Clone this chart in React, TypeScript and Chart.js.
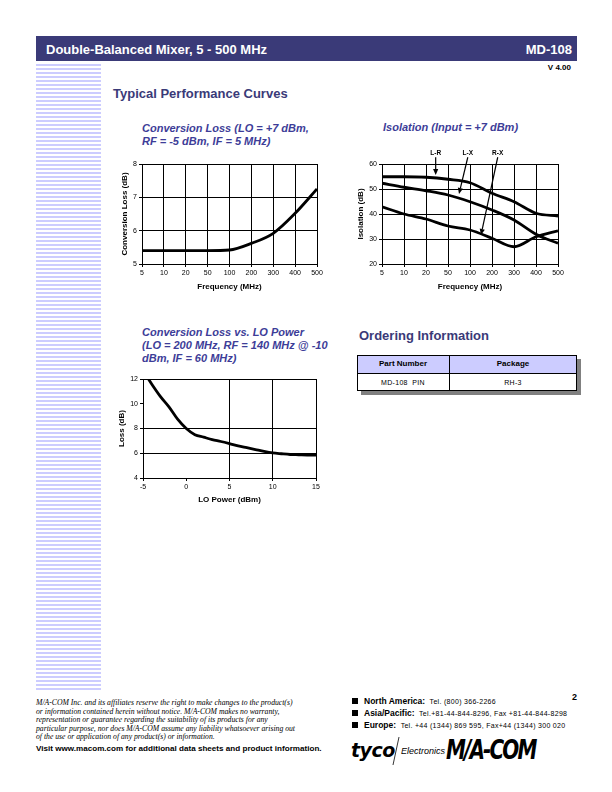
import React, { useEffect, useRef } from 'react';
import { Chart, registerables } from 'chart.js';

Chart.register(...registerables);

// ---------- data ----------
const FREQ_LABELS = ['5', '10', '20', '50', '100', '200', '300', '400', '500'];
const CONV_LOSS = [5.4, 5.4, 5.4, 5.4, 5.42, 5.62, 5.92, 6.52, 7.25];

const ISO_LR = [54.9, 54.9, 54.7, 53.9, 52.5, 48.3, 44.9, 40.3, 39.2];
const ISO_LX = [52.3, 50.7, 49.3, 47.6, 44.9, 41.6, 37.6, 31.9, 28.3];
const ISO_RX = [42.9, 40.0, 38.0, 35.2, 33.6, 30.3, 26.9, 30.9, 33.3];

const ISO_ARROW_LABELS = ['L-R', 'L-X', 'R-X'];
const ISO_ARROW_FROM_X = [2.44, 3.9, 5.26];
const ISO_ARROW_FROM_Y = [62.7, 62.7, 62.7];
const ISO_ARROW_TO_X = [2.44, 3.5, 4.5];
const ISO_ARROW_TO_Y = [55.6, 48.0, 31.6];
const ISO_LABEL_Y = 64.4;

const LO_POWER = [-5, -4, -3, -2, -1, 0, 1, 2, 3, 4, 5, 6, 7, 8, 9, 10, 11, 12, 13, 14, 15];
const LO_LOSS = [12.7, 11.6, 10.6, 9.75, 8.75, 8.0, 7.5, 7.3, 7.1, 6.95, 6.78, 6.6, 6.45, 6.3, 6.15, 6.03, 5.96, 5.9, 5.88, 5.86, 5.85];
const LO_GRID_X = [5, 10];
const LO_GRID_Y = [6, 8];

// ---------- styles ----------
const SANS = '"Liberation Sans", Arial, Helvetica, sans-serif';
const SERIF = '"Liberation Serif", "Times New Roman", serif';
const NAVY = '#3a3a78';
const TITLE_BLUE = '#3d3d98';

const framePlugin = {
  id: 'frame',
  beforeDatasetsDraw(chart: any) {
    const { ctx, chartArea: a } = chart;
    ctx.save();
    ctx.strokeStyle = '#000';
    ctx.lineWidth = 1;
    const l = Math.round(a.left) + 0.5;
    const t = Math.round(a.top) + 0.5;
    const r = Math.round(a.right) + 0.5;
    const b = Math.round(a.bottom) + 0.5;
    ctx.strokeRect(l, t, r - l, b - t);
    ctx.restore();
  },
};

const arrowPlugin = {
  id: 'isoArrows',
  afterDraw(chart: any) {
    const { ctx, scales } = chart;
    const x = scales.x;
    const y = scales.y;
    ctx.save();
    ctx.strokeStyle = '#000';
    ctx.fillStyle = '#000';
    ISO_ARROW_LABELS.forEach((lab, i) => {
      const x0 = x.getPixelForValue(ISO_ARROW_FROM_X[i]);
      const y0 = y.getPixelForValue(ISO_ARROW_FROM_Y[i]);
      const x1 = x.getPixelForValue(ISO_ARROW_TO_X[i]);
      const y1 = y.getPixelForValue(ISO_ARROW_TO_Y[i]);
      const ang = Math.atan2(y1 - y0, x1 - x0);
      const head = 6;
      const hw = 2.6;
      const bx = x1 - head * Math.cos(ang);
      const by = y1 - head * Math.sin(ang);
      ctx.lineWidth = 1.2;
      ctx.beginPath();
      ctx.moveTo(x0, y0);
      ctx.lineTo(bx, by);
      ctx.stroke();
      ctx.beginPath();
      ctx.moveTo(x1, y1);
      ctx.lineTo(bx + hw * Math.sin(ang), by - hw * Math.cos(ang));
      ctx.lineTo(bx - hw * Math.sin(ang), by + hw * Math.cos(ang));
      ctx.closePath();
      ctx.fill();
      ctx.font = `bold 6.5px ${SANS}`;
      ctx.textAlign = 'center';
      ctx.textBaseline = 'middle';
      ctx.fillText(lab, x0, y.getPixelForValue(ISO_LABEL_Y));
    });
    ctx.restore();
  },
};

const tickFont = { family: SANS, size: 7 };
const axisTitleFont = { family: SANS, size: 8, weight: 'bold' as const };

function lineDs(data: number[]) {
  return {
    data,
    borderColor: '#000',
    borderWidth: 2.8,
    pointRadius: 0,
    fill: false,
    cubicInterpolationMode: 'monotone' as const,
    clip: 0,
  };
}

function yAxis(min: number, max: number, step: number, title: string, titlePad: number, width: number, gridColor?: any) {
  return {
    type: 'linear',
    min,
    max,
    ticks: { stepSize: step, font: tickFont, color: '#000', padding: 2 },
    grid: { color: gridColor || '#000', lineWidth: 1, tickLength: 3, tickColor: '#000' },
    border: { color: '#000' },
    title: { display: true, text: title, font: axisTitleFont, color: '#000', padding: { top: titlePad, bottom: 0 } },
    afterFit: (s: any) => {
      s.width = width;
    },
  };
}

function xTitle(text: string, pad: number) {
  return { display: true, text, font: axisTitleFont, color: '#000', padding: { top: 0, bottom: pad } };
}

function ChartBox(props: { left: number; top: number; width: number; height: number; make: () => any }) {
  const ref = useRef<HTMLCanvasElement | null>(null);
  useEffect(() => {
    const chart = new Chart(ref.current as HTMLCanvasElement, props.make());
    return () => chart.destroy();
  }, []);
  return (
    <canvas
      ref={ref}
      width={props.width}
      height={props.height}
      style={{ position: 'absolute', left: props.left, top: props.top, width: props.width, height: props.height }}
    />
  );
}

const baseOpts = {
  responsive: false,
  animation: false,
  devicePixelRatio: 1,
  plugins: { legend: { display: false }, tooltip: { enabled: false } },
};

function makeConvLoss() {
  return {
    type: 'line',
    data: { labels: FREQ_LABELS, datasets: [lineDs(CONV_LOSS)] },
    options: {
      ...baseOpts,
      layout: { padding: { left: 0, top: 14, right: 13, bottom: 0 } },
      scales: {
        x: {
          type: 'category',
          offset: false,
          ticks: { font: tickFont, color: '#000', padding: 2, autoSkip: false, maxRotation: 0 },
          grid: { color: '#000', offset: false, tickLength: 3, tickColor: '#000' },
          border: { color: '#000' },
          title: xTitle('Frequency (MHz)', 8),
          afterFit: (s: any) => {
            s.height = 36;
          },
        },
        y: yAxis(5, 8, 1, 'Conversion Loss (dB)', 19.5, 42),
      },
    },
    plugins: [framePlugin],
  };
}

function makeIsolation() {
  return {
    type: 'line',
    data: { labels: FREQ_LABELS, datasets: [lineDs(ISO_LR), lineDs(ISO_LX), lineDs(ISO_RX)] },
    options: {
      ...baseOpts,
      layout: { padding: { left: 0, top: 24, right: 12, bottom: 0 } },
      scales: {
        x: {
          type: 'category',
          offset: false,
          ticks: { font: tickFont, color: '#000', padding: 2, autoSkip: false, maxRotation: 0 },
          grid: { color: '#000', offset: false, tickLength: 3, tickColor: '#000' },
          border: { color: '#000' },
          title: xTitle('Frequency (MHz)', 8.5),
          afterFit: (s: any) => {
            s.height = 36;
          },
        },
        y: yAxis(20, 60, 10, 'Isolation (dB)', 15.5, 42),
      },
    },
    plugins: [framePlugin, arrowPlugin],
  };
}

function makeLoPower() {
  return {
    type: 'line',
    data: {
      datasets: [{ ...lineDs(LO_LOSS), data: LO_POWER.map((p, i) => ({ x: p, y: LO_LOSS[i] })) }],
    },
    options: {
      ...baseOpts,
      layout: { padding: { left: 0, top: 14, right: 14, bottom: 0 } },
      scales: {
        x: {
          type: 'linear',
          min: -5,
          max: 15,
          ticks: { stepSize: 5, font: tickFont, color: '#000', padding: 2, maxRotation: 0 },
          grid: {
            color: (c: any) => (c.tick && LO_GRID_X.includes(c.tick.value) ? '#000' : 'rgba(0,0,0,0)'),
            tickLength: 3,
            tickColor: '#000',
          },
          border: { color: '#000' },
          title: xTitle('LO Power (dBm)', 10),
          afterFit: (s: any) => {
            s.height = 37;
          },
        },
        y: yAxis(4, 12, 2, 'Loss (dB)', 17, 43, (c: any) =>
          c.tick && LO_GRID_Y.includes(c.tick.value) ? '#000' : 'rgba(0,0,0,0)'
        ),
      },
    },
    plugins: [framePlugin],
  };
}

function T(props: { x: number; y: number; children: any; style?: any; right?: boolean; center?: boolean }) {
  const tx = props.right ? '-100%' : props.center ? '-50%' : '0';
  return (
    <div
      style={{
        position: 'absolute',
        left: props.x,
        top: props.y,
        transform: `translate(${tx}, -50%)`,
        whiteSpace: 'nowrap',
        lineHeight: 1,
        fontFamily: SANS,
        ...props.style,
      }}
    >
      {props.children}
    </div>
  );
}

const chartTitleStyle = { fontSize: 11, fontWeight: 'bold', fontStyle: 'italic', color: TITLE_BLUE };
const sectionStyle = { fontSize: 13, fontWeight: 'bold', color: NAVY };
const disclaimer = [
  'M/A-COM Inc. and its affiliates reserve the right to make changes to the product(s)',
  'or information contained herein without notice. M/A-COM makes no warranty,',
  'representation or guarantee regarding the suitability of its products for any',
  'particular purpose, nor does M/A-COM assume any liability whatsoever arising out',
  'of the use or application of any product(s) or information.',
];
const contacts = [
  ['North America:', 'Tel. (800) 366-2266'],
  ['Asia/Pacific:', 'Tel.+81-44-844-8296,  Fax +81-44-844-8298'],
  ['Europe:', 'Tel. +44 (1344) 869 595,  Fax+44 (1344) 300 020'],
];

export default function App() {
  return (
    <div style={{ position: 'absolute', left: 0, top: 0, width: 612, height: 792, background: '#fff', overflow: 'hidden' }}>
      {/* header */}
      <div style={{ position: 'absolute', left: 36, top: 36, width: 541, height: 25, background: NAVY }} />
      <T x={46} y={48.5} style={{ fontSize: 13, fontWeight: 'bold', color: '#fff' }}>
        Double-Balanced Mixer, 5 - 500 MHz
      </T>
      <T x={572} y={48.5} right style={{ fontSize: 13, fontWeight: 'bold', color: '#fff' }}>
        MD-108
      </T>
      <T x={571} y={68} right style={{ fontSize: 8, fontWeight: 'bold', color: '#000' }}>
        V 4.00
      </T>
      {/* stripes */}
      <div
        style={{
          position: 'absolute',
          left: 36,
          top: 64,
          width: 65,
          height: 627,
          background: 'repeating-linear-gradient(to bottom, #ccccff 0px, #ccccff 2px, transparent 2px, transparent 4px)',
        }}
      />
      <T x={113} y={93} style={sectionStyle}>
        Typical Performance Curves
      </T>

      {/* chart titles */}
      <T x={142} y={128} style={chartTitleStyle}>
        Conversion Loss (LO = +7 dBm,
      </T>
      <T x={142} y={141} style={chartTitleStyle}>
        RF = -5 dBm, IF = 5 MHz)
      </T>
      <T x={383} y={127} style={chartTitleStyle}>
        Isolation (Input = +7 dBm)
      </T>
      <T x={142} y={332} style={chartTitleStyle}>
        Conversion Loss vs. LO Power
      </T>
      <T x={142} y={345} style={chartTitleStyle}>
        (LO = 200 MHz, RF = 140 MHz @ -10
      </T>
      <T x={142} y={358} style={chartTitleStyle}>
        dBm, IF = 60 MHz)
      </T>

      <ChartBox left={100} top={150} width={230} height={150} make={makeConvLoss} />
      <ChartBox left={340} top={140} width={230} height={160} make={makeIsolation} />
      <ChartBox left={100} top={365} width={230} height={150} make={makeLoPower} />

      {/* ordering information */}
      <T x={359} y={335} style={sectionStyle}>
        Ordering Information
      </T>
      <div style={{ position: 'absolute', left: 361, top: 359, width: 220, height: 36, background: '#808080' }} />
      <div
        style={{
          position: 'absolute',
          left: 357,
          top: 355,
          width: 220,
          height: 36,
          boxSizing: 'border-box',
          border: '1px solid #000',
          background: '#fff',
        }}
      >
        <div style={{ position: 'absolute', left: 0, top: 0, width: 218, height: 17, background: '#ccccff', borderBottom: '1px solid #000' }} />
        <div style={{ position: 'absolute', left: 91, top: 0, width: 1, height: 34, background: '#000' }} />
      </div>
      <T x={403} y={364} center style={{ fontSize: 8, fontWeight: 'bold' }}>
        Part Number
      </T>
      <T x={513} y={364} center style={{ fontSize: 8, fontWeight: 'bold' }}>
        Package
      </T>
      <T x={403} y={382} center style={{ fontSize: 7, letterSpacing: 0.3 }}>
        MD-108&nbsp;&nbsp;PIN
      </T>
      <T x={513} y={382} center style={{ fontSize: 7, letterSpacing: 0.3 }}>
        RH-3
      </T>

      {/* footer left */}
      {disclaimer.map((line, i) => (
        <T key={i} x={36} y={703 + i * 8.6} style={{ fontFamily: SERIF, fontStyle: 'italic', fontSize: 7.7 }}>
          {line}
        </T>
      ))}
      <T x={36} y={749} style={{ fontSize: 8.1, fontWeight: 'bold' }}>
        Visit www.macom.com for additional data sheets and product information.
      </T>

      {/* footer right */}
      <T x={577} y={697} right style={{ fontSize: 9, fontWeight: 'bold' }}>
        2
      </T>
      {contacts.map((c, i) => (
        <React.Fragment key={i}>
          <div style={{ position: 'absolute', left: 352, top: 701 + i * 12 - 3, width: 6, height: 6, background: '#000' }} />
          <T x={364} y={701 + i * 12} style={{ fontSize: 8.5 }}>
            <span style={{ fontWeight: 'bold' }}>{c[0]}</span>
            <span style={{ fontSize: 7, letterSpacing: 0.3 }}>&nbsp;&nbsp;{c[1]}</span>
          </T>
        </React.Fragment>
      ))}
      <T x={351} y={750} style={{ fontSize: 19, fontWeight: 'bold', fontStyle: 'italic', fontFamily: '"DejaVu Sans", sans-serif', letterSpacing: -0.5 }}>
        tyco
      </T>
      <svg style={{ position: 'absolute', left: 390, top: 736, width: 12, height: 30 }} width={12} height={30}>
        <line x1={9} y1={1} x2={3} y2={29} stroke="#000" strokeWidth={0.8} />
      </svg>
      <T x={401} y={751} style={{ fontSize: 9, fontStyle: 'italic' }}>
        Electronics
      </T>
      <div
        style={{
          position: 'absolute',
          left: 446,
          top: 735,
          fontFamily: '"DejaVu Sans", sans-serif',
          fontWeight: 'bold',
          fontStyle: 'italic',
          fontSize: 27,
          lineHeight: '30px',
          letterSpacing: -2.5,
          transform: 'scaleX(0.74)',
          transformOrigin: 'left center',
          whiteSpace: 'nowrap',
        }}
      >
        M/A-COM
      </div>
    </div>
  );
}
